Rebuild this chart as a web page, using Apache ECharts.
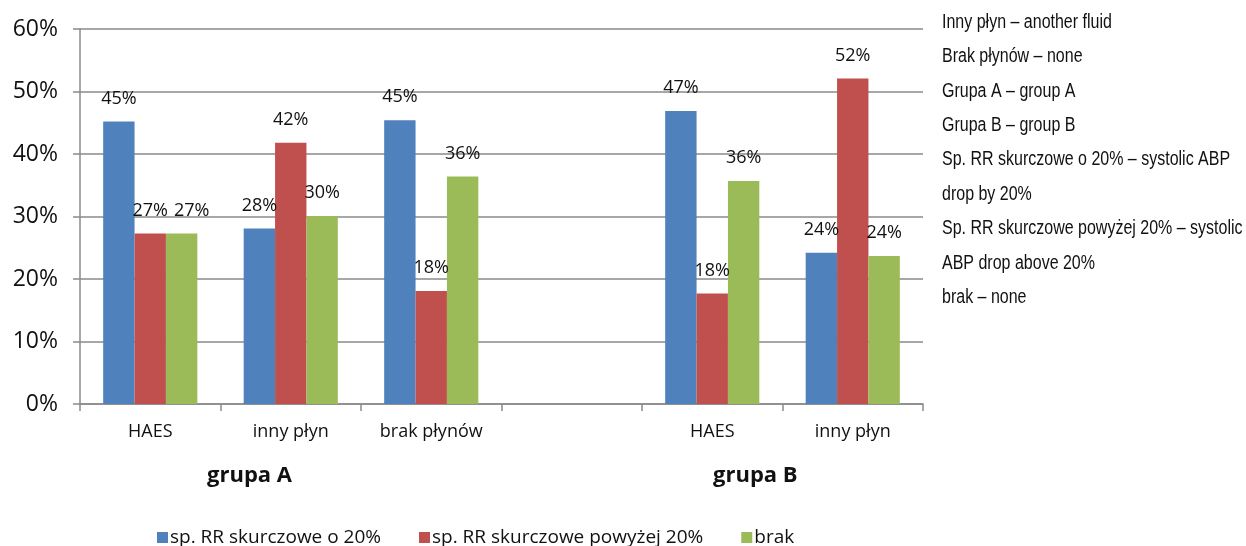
<!DOCTYPE html>
<html>
<head>
<meta charset="utf-8">
<script src="https://cdn.jsdelivr.net/npm/echarts@6/dist/echarts.min.js"></script>
<style>
html,body{margin:0;padding:0;background:#fff;}
#c{width:1246px;height:546px;}
</style>
</head>
<body>
<div id="c"></div>
<script>
const categories = ['HAES', 'inny płyn', 'brak płynów', '', 'HAES', 'inny płyn'];
const seriesNames = ['sp. RR skurczowe o 20%', 'sp. RR skurczowe powyżej 20%', 'brak'];
const dropBy20 = [45.2, 28.1, 45.4, null, 46.9, 24.2];
const dropAbove20 = [27.3, 41.8, 18.1, null, 17.7, 52.1];
const none = [27.3, 30.1, 36.4, null, 35.7, 23.7];
const yTicks = [0, 10, 20, 30, 40, 50, 60];
const groupLabels = ['grupa A', 'grupa B'];
const notes = [
  'Inny płyn – another fluid',
  'Brak płynów – none',
  'Grupa A – group A',
  'Grupa B – group B',
  'Sp. RR skurczowe o 20% – systolic ABP',
  'drop by 20%',
  'Sp. RR skurczowe powyżej 20% – systolic',
  'ABP drop above 20%',
  'brak – none'
];

const colors = ['#4F81BD', '#C0504D', '#9BBB59'];
const FONT = '"Open Sans", sans-serif';
const gridColor = '#8a8a8a';

function mk(name, values, color, offsets) {
  return {
    name: name,
    type: 'bar',
    barGap: '0%',
    barCategoryGap: '33%',
    itemStyle: { color: color },
    label: {
      show: true,
      position: 'top',
      distance: 14,
      color: '#111',
      fontFamily: FONT,
      fontSize: 18,
      formatter: p => p.value == null ? '' : Math.round(p.value) + '%'
    },
    data: values.map((v, i) => (offsets && offsets[i]) ? { value: v, label: { offset: offsets[i] } } : v)
  };
}

const chart = echarts.init(document.getElementById('c'));
chart.setOption({
  animation: false,
  color: colors,
  grid: { left: 80, right: 323, top: 29, bottom: 142, containLabel: false },
  xAxis: {
    type: 'category',
    data: categories,
    axisLine: { lineStyle: { color: gridColor, width: 1.5 } },
    axisTick: { show: true, length: 7, lineStyle: { color: gridColor, width: 1.5 } },
    axisLabel: { fontFamily: FONT, fontSize: 18, color: '#111', margin: 19, interval: 0 }
  },
  yAxis: {
    type: 'value',
    min: yTicks[0],
    max: yTicks[yTicks.length - 1],
    interval: 10,
    axisLine: { show: true, lineStyle: { color: gridColor, width: 1.5 } },
    axisTick: { show: true, length: 7, lineStyle: { color: gridColor, width: 1.5 } },
    splitLine: { lineStyle: { color: gridColor, width: 1.5 } },
    axisLabel: { fontFamily: FONT, fontSize: 23, color: '#111', margin: 22, formatter: '{value}%' }
  },
  legend: {
    left: 152,
    top: 523,
    itemWidth: 11,
    itemHeight: 11,
    itemGap: 38,
    icon: 'rect',
    textStyle: { fontFamily: FONT, fontSize: 19, color: '#111', padding: [0, 0, 0, -3] },
    data: seriesNames
  },
  series: [
    mk(seriesNames[0], dropBy20, colors[0]),
    mk(seriesNames[1], dropAbove20, colors[1]),
    mk(seriesNames[2], none, colors[2], { 0: [10, 0] })
  ],
  graphic: [
    { type: 'text', left: 207, top: 465, style: { text: groupLabels[0], fontFamily: FONT, fontSize: 22, fontWeight: 'bold', fill: '#111' } },
    { type: 'text', left: 713, top: 465, style: { text: groupLabels[1], fontFamily: FONT, fontSize: 22, fontWeight: 'bold', fill: '#111' } },
    { type: 'text', x: 942, y: 5, scaleX: 0.8, style: { text: notes.join('\n'), fontFamily: '"Liberation Sans", sans-serif', fontSize: 20, lineHeight: 34.4, fill: '#111' } }
  ]
});
</script>
</body>
</html>
